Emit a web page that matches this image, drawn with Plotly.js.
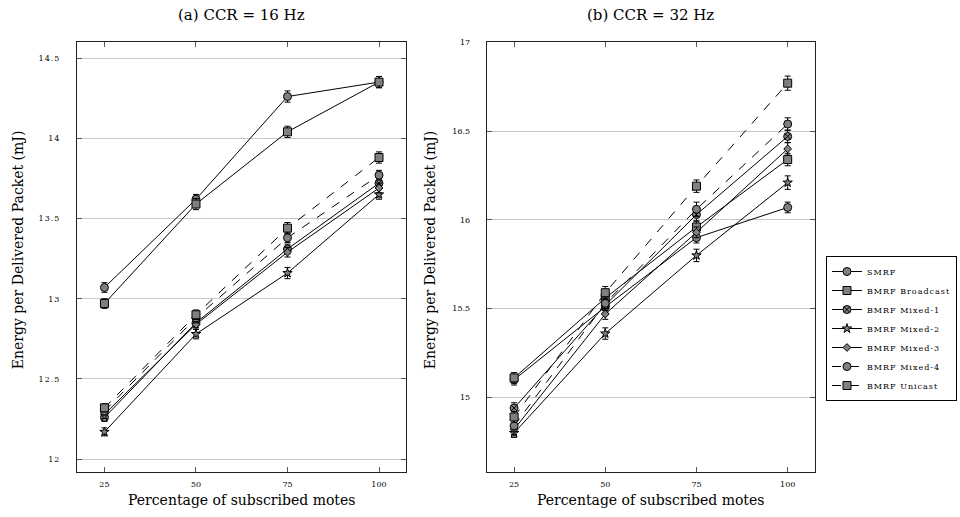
<!DOCTYPE html>
<html><head><meta charset="utf-8">
<script src="https://cdn.plot.ly/plotly-3.0.1.min.js"></script>
<style>
html,body{margin:0;padding:0;background:#fff}
#chart{width:960px;height:517px}
.ytick text{letter-spacing:1px}
.legendtext{letter-spacing:1px}
</style></head><body><div id="chart"></div>
<script>
const percentages = [25, 50, 75, 100];
const tickLabels = ["25", "50", "75", "100"];
const seriesNames = ["SMRF", "BMRF Broadcast", "BMRF Mixed-1", "BMRF Mixed-2", "BMRF Mixed-3", "BMRF Mixed-4", "BMRF Unicast"];

// (a) CCR = 16 Hz
const smrf16      = [13.07, 13.62, 14.26, 14.35];
const broadcast16 = [12.97, 13.59, 14.04, 14.35];
const mixed1_16   = [12.26, 12.85, 13.31, 13.72];
const mixed2_16   = [12.17, 12.78, 13.16, 13.65];
const mixed3_16   = [12.28, 12.84, 13.29, 13.69];
const mixed4_16   = [12.30, 12.88, 13.38, 13.77];
const unicast16   = [12.32, 12.90, 13.44, 13.88];

const smrf16Err      = [0.03, 0.03, 0.035, 0.035];
const broadcast16Err = [0.03, 0.035, 0.035, 0.035];
const mixed1_16Err   = [0.025, 0.03, 0.03, 0.03];
const mixed2_16Err   = [0.025, 0.03, 0.035, 0.03];
const mixed3_16Err   = [0.025, 0.03, 0.03, 0.03];
const mixed4_16Err   = [0.025, 0.03, 0.03, 0.03];
const unicast16Err   = [0.025, 0.03, 0.035, 0.035];

// (b) CCR = 32 Hz
const smrf32      = [15.10, 15.51, 15.90, 16.07];
const broadcast32 = [15.11, 15.56, 15.96, 16.34];
const mixed1_32   = [14.94, 15.52, 16.03, 16.47];
const mixed2_32   = [14.80, 15.36, 15.80, 16.21];
const mixed3_32   = [14.82, 15.47, 15.93, 16.40];
const mixed4_32   = [14.84, 15.53, 16.06, 16.54];
const unicast32   = [14.89, 15.59, 16.19, 16.77];

const smrf32Err      = [0.03, 0.03, 0.03, 0.03];
const broadcast32Err = [0.03, 0.035, 0.03, 0.035];
const mixed1_32Err   = [0.03, 0.03, 0.035, 0.035];
const mixed2_32Err   = [0.025, 0.032, 0.035, 0.038];
const mixed3_32Err   = [0.03, 0.03, 0.03, 0.035];
const mixed4_32Err   = [0.03, 0.03, 0.04, 0.035];
const unicast32Err   = [0.03, 0.035, 0.035, 0.04];

const data16 = [smrf16, broadcast16, mixed1_16, mixed2_16, mixed3_16, mixed4_16, unicast16];
const err16  = [smrf16Err, broadcast16Err, mixed1_16Err, mixed2_16Err, mixed3_16Err, mixed4_16Err, unicast16Err];
const data32 = [smrf32, broadcast32, mixed1_32, mixed2_32, mixed3_32, mixed4_32, unicast32];
const err32  = [smrf32Err, broadcast32Err, mixed1_32Err, mixed2_32Err, mixed3_32Err, mixed4_32Err, unicast32Err];

const symbols = ["circle", "square", "circle-x", "star", "diamond", "circle", "square"];
const sizes   = [8, 8, 8, 7, 6, 8, 8];
const dashes  = ["solid", "solid", "solid", "solid", "solid", "dash", "dash"];

const serif = "DejaVu Serif, Liberation Serif, serif";
const traces = [];
function addPanel(values, errs, xa, ya, showLegend) {
  values.forEach((v, i) => {
    traces.push({
      type: "scatter", mode: "lines+markers",
      x: percentages, y: v, name: seriesNames[i],
      xaxis: xa, yaxis: ya, showlegend: showLegend,
      line: {color: "#000", width: 1, dash: dashes[i]},
      marker: {symbol: symbols[i], size: sizes[i], color: "#808080", line: {color: "#000", width: 1}},
      error_y: {type: "data", array: errs[i], visible: true, color: "#000", thickness: 1, width: 3}
    });
  });
}
addPanel(data16, err16, "x", "y", true);
addPanel(data32, err32, "x2", "y2", false);

const axisCommon = {
  showline: true, linecolor: "#222", linewidth: 1, mirror: "ticks",
  ticks: "inside", ticklen: 5, tickcolor: "#555", zeroline: false,
  tickfont: {family: serif, size: 8, color: "#000"}
};
const xCommon = Object.assign({}, axisCommon, {
  range: [17.5, 107.5], tickmode: "array", tickvals: percentages, ticktext: tickLabels,
  showgrid: false, ticklabelstandoff: 4
});
const yCommon = Object.assign({}, axisCommon, {
  tickmode: "linear", dtick: 0.5, showgrid: true, gridcolor: "#c8c8c8", gridwidth: 1, ticklabelstandoff: 14
});

const layout = {
  width: 960, height: 517,
  margin: {l: 0, r: 0, t: 0, b: 0},
  paper_bgcolor: "#fff", plot_bgcolor: "#fff",
  font: {family: serif, color: "#000"},
  xaxis: Object.assign({}, xCommon, {domain: [0.0802, 0.4234], anchor: "y"}),
  yaxis: Object.assign({}, yCommon, {domain: [0.087, 0.9188], range: [11.92, 14.60], tick0: 12, anchor: "x"}),
  xaxis2: Object.assign({}, xCommon, {domain: [0.507, 0.849], anchor: "y2"}),
  yaxis2: Object.assign({}, yCommon, {domain: [0.087, 0.9188], range: [14.58, 17.002], tick0: 15, anchor: "x2"}),
  showlegend: true,
  legend: {
    x: 0.8604, xanchor: "left", y: 0.3646, yanchor: "middle",
    bordercolor: "#000", borderwidth: 1, bgcolor: "#fff",
    font: {family: serif, size: 8, color: "#000"}
  },
  annotations: [
    {text: "(a) CCR = 16 Hz", xref: "paper", yref: "paper", x: 0.2518, y: 0.971, showarrow: false, xanchor: "center", yanchor: "middle", font: {family: serif, size: 15}},
    {text: "(b) CCR = 32 Hz", xref: "paper", yref: "paper", x: 0.678, y: 0.971, showarrow: false, xanchor: "center", yanchor: "middle", font: {family: serif, size: 15}},
    {text: "Percentage of subscribed motes", xref: "paper", yref: "paper", x: 0.2518, y: 0.0329, showarrow: false, xanchor: "center", yanchor: "middle", font: {family: serif, size: 14}},
    {text: "Percentage of subscribed motes", xref: "paper", yref: "paper", x: 0.678, y: 0.0329, showarrow: false, xanchor: "center", yanchor: "middle", font: {family: serif, size: 14}},
    {text: "Energy per Delivered Packet (mJ)", xref: "paper", yref: "paper", x: 0.01875, y: 0.516, textangle: -90, showarrow: false, xanchor: "center", yanchor: "middle", font: {family: serif, size: 14}},
    {text: "Energy per Delivered Packet (mJ)", xref: "paper", yref: "paper", x: 0.448, y: 0.516, textangle: -90, showarrow: false, xanchor: "center", yanchor: "middle", font: {family: serif, size: 14}}
  ]
};

Plotly.newPlot("chart", traces, layout, {displayModeBar: false, staticPlot: true});
</script></body></html>
